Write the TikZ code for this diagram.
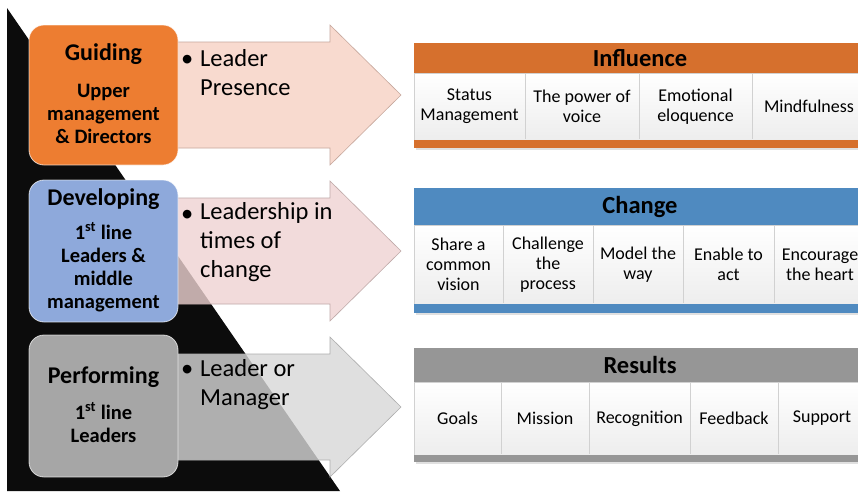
\documentclass[tikz,border=0pt]{standalone}
\usepackage{fontspec}
\setmainfont{Carlito}
\usetikzlibrary{positioning}
\definecolor{guidebox}{RGB}{237,125,49}
\definecolor{devbox}{RGB}{142,169,219}
\definecolor{perfbox}{RGB}{166,166,166}
\definecolor{guidearm}{RGB}{247,209,195}
\definecolor{devarm}{RGB}{239,211,210}
\definecolor{perfarm}{RGB}{216,216,216}
\definecolor{inflhead}{RGB}{214,112,45}
\definecolor{chghead}{RGB}{79,138,192}
\definecolor{reshead}{RGB}{150,150,150}
\definecolor{nearblack}{RGB}{12,12,12}
\tikzset{
  levelbox/.style={draw=white, draw opacity=0.7, line width=0.8pt, rounded corners=15pt,
    minimum width=149pt, minimum height=141pt, inner sep=0pt},
  leveltitle/.style={font=\fontsize{24}{28}\selectfont\bfseries, anchor=base, inner sep=0pt},
  levelsub/.style={font=\fontsize{20.5}{23}\selectfont\bfseries, align=center, anchor=base, inner sep=0pt},
  armtext/.style={font=\fontsize{24.5}{29}\selectfont, align=left, anchor=base west, inner sep=0pt},
  armdot/.style={font=\fontsize{24.5}{29}\selectfont, anchor=base west, inner sep=0pt},
  headtext/.style={font=\fontsize{24.5}{28}\selectfont\bfseries, text=black, inner sep=0pt,
    minimum width=452pt},
  celltext/.style={font=\fontsize{18}{20}\selectfont, align=center, inner sep=0pt},
  divider/.style={draw=black!18, line width=0.8pt},
}
% arrow behind a level box: #1 centre y, #2 colour
\newcommand\levelarrow[2]{%
  \filldraw[fill=#2, draw=#2!80!black, fill opacity=0.8, line width=0.6pt]
    (170,#1-53) -- (330,#1-53) -- (330,#1-70) -- (401,#1) -- (330,#1+70)
    -- (330,#1+53) -- (170,#1+53) -- cycle;}
\begin{document}
\begin{tikzpicture}[x=1pt,y=-1pt]
\fill[white] (0,0) rectangle (858,491);
\useasboundingbox (0,0) rectangle (858,491);
% black wedge
\fill[nearblack] (7,8) -- (340,491) -- (7,491) -- cycle;
% arrows
\levelarrow{95}{guidearm}
\levelarrow{251}{devarm}
\levelarrow{407}{perfarm}
% level boxes (multi-line texts sit on their last baseline)
\node[levelbox, fill=guidebox, minimum height=140pt] (guide) at (103.5,95) {};
\node[levelbox, fill=devbox, minimum height=142pt] (dev) at (103.5,251) {};
\node[levelbox, fill=perfbox, minimum height=142pt] (perf) at (103.5,406) {};
\node[leveltitle] (guide-title) at (103.5,60) {Guiding};
\node[levelsub] (guide-sub) at (103.5,143) {Upper\\management\\\& Directors};
\node[leveltitle] (dev-title) at (103.5,205) {Developing};
\node[levelsub] (dev-sub) at (103.5,308) {1\textsuperscript{st} line\\Leaders \&\\middle\\management};
\node[leveltitle] (perf-title) at (103.5,383) {Performing};
\node[levelsub] (perf-sub) at (103.5,442) {1\textsuperscript{st} line\\Leaders};
% arrow texts
\node[armdot] (guide-dot) at (181,66) {\textbullet};
\node[armtext] (guide-arm) at (200,95) {Leader\\Presence};
\node[armdot] (dev-dot) at (181,221) {\textbullet};
\node[armtext] (dev-arm) at (200,277) {Leadership in\\times of\\change};
\node[armdot] (perf-dot) at (181,376) {\textbullet};
\node[armtext] (perf-arm) at (200,405) {Leader or\\Manager};
% Influence table
\fill[black!12] (416,45) rectangle (868,150);
\shade[top color=white, bottom color=black!7] (414,73) rectangle (866,140);
\draw[divider] (414,73) rectangle (866,140);
\fill[inflhead] (414,140) rectangle (866,148);
\node[headtext, fill=inflhead, minimum height=30pt] (infl) at (640,58) {Influence};
\foreach \x in {525,639,752} \draw[divider] (\x,74) -- (\x,139);
\foreach \xa/\xb/\txt [count=\i] in {414/525/{Status\\Management}, 525/639/{The power of\\voice},
    639/752/{Emotional\\eloquence}, 752/866/Mindfulness}
  \node[celltext] (infl-\i) at ({(\xa+\xb)/2},106.5) {\txt};
% Change table
\fill[black!12] (416,190) rectangle (868,315);
\shade[top color=white, bottom color=black!7] (414,225) rectangle (866,304);
\draw[divider] (414,225) rectangle (866,304);
\fill[chghead] (414,304) rectangle (866,313);
\node[headtext, fill=chghead, minimum height=37pt] (chg) at (640,206.5) {Change};
\foreach \x in {503,593,683,774} \draw[divider] (\x,226) -- (\x,303);
\foreach \xa/\xb/\txt [count=\i] in {414/503/{Share a\\common\\vision}, 503/593/{Challenge\\the\\process},
    593/683/{Model the\\way}, 683/774/{Enable to\\act}, 774/866/{Encourage\\the heart}}
  \node[celltext] (chg-\i) at ({(\xa+\xb)/2},264.5) {\txt};
% Results table
\fill[black!12] (416,350) rectangle (868,464);
\shade[top color=white, bottom color=black!7] (414,382) rectangle (866,455);
\draw[divider] (414,382) rectangle (866,455);
\fill[reshead] (414,455) rectangle (866,462);
\node[headtext, fill=reshead, minimum height=34pt] (res) at (640,365) {Results};
\foreach \x in {501,589,690,778} \draw[divider] (\x,383) -- (\x,454);
\foreach \xa/\xb/\txt [count=\i] in {414/501/Goals, 501/589/Mission, 589/690/Recognition,
    690/778/Feedback, 778/866/Support}
  \node[celltext] (res-\i) at ({(\xa+\xb)/2},418.5) {\txt};
\end{tikzpicture}
\end{document}
